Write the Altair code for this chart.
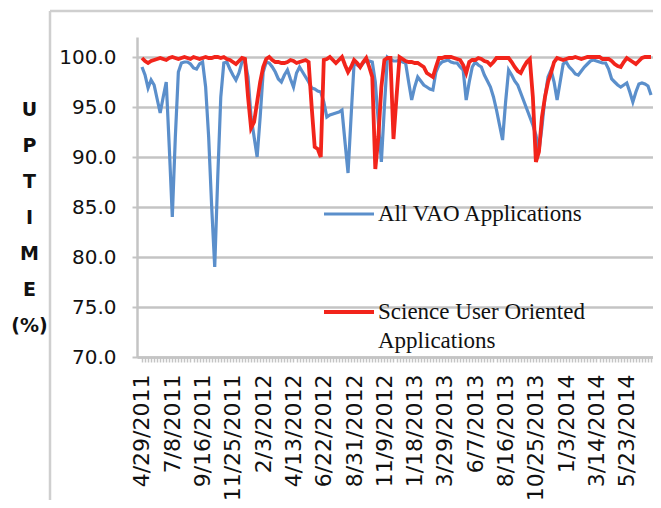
import altair as alt
import pandas as pd

tick_labels = ["4/29/2011", "7/8/2011", "9/16/2011", "11/25/2011", "2/3/2012",
               "4/13/2012", "6/22/2012", "8/31/2012", "11/9/2012", "1/18/2013",
               "3/29/2013", "6/7/2013", "8/16/2013", "10/25/2013", "1/3/2014",
               "3/14/2014", "5/23/2014"]

series_names = ["All VAO Applications", "Science User Oriented Applications"]

all_vao = [
    99.0, 98.2, 96.9, 97.7, 97.2, 95.8, 94.4, 96.0, 97.5, 91.0,
    84.0, 92.0, 98.5, 99.4, 99.5, 99.5, 99.3, 98.9, 98.8, 99.3,
    99.5, 97.0, 92.0, 85.0, 79.0, 88.0, 96.0, 99.4, 99.5, 98.8,
    98.2, 97.7, 98.4, 99.5, 99.6, 98.0, 94.0, 92.0, 90.0, 94.0,
    98.5, 99.5, 99.4, 99.0, 98.5, 97.8, 97.5, 98.2, 98.7, 97.8,
    97.0, 98.4, 99.0, 98.5, 98.0, 97.5, 96.9, 96.8, 96.6, 96.5,
    95.5, 94.0, 94.2, 94.3, 94.4, 94.5, 94.7, 91.5, 88.4, 94.0,
    99.4, 99.2, 99.0, 99.4, 99.7, 99.6, 99.5, 97.5, 93.5, 89.5,
    95.0, 100.0, 99.8, 99.6, 99.6, 99.7, 99.5, 99.4, 97.5, 95.7,
    97.0, 98.0, 97.6, 97.2, 97.0, 96.8, 96.7, 98.5, 99.2, 99.5,
    99.6, 99.7, 99.5, 99.4, 99.4, 99.0, 98.7, 95.7, 97.5, 99.0,
    99.5, 99.2, 99.0, 98.2, 97.6, 97.0, 96.0, 94.7, 93.2, 91.7,
    95.5, 98.7, 98.2, 97.6, 97.2, 96.4, 95.6, 94.8, 94.0, 93.2,
    92.2, 90.6, 93.0, 96.0, 98.0, 98.7, 97.5, 95.7, 97.5, 99.3,
    99.5, 99.0, 98.7, 98.3, 98.2, 98.6, 99.0, 99.3, 99.6, 99.7,
    99.6, 99.5, 99.4, 99.4, 98.8, 97.8, 97.5, 97.2, 97.0, 97.2,
    97.4, 96.5, 95.5, 96.5, 97.3, 97.4, 97.3, 97.1, 96.2,
]

science_user = [
    99.9, 99.6, 99.4, 99.6, 99.7, 99.8, 99.9, 99.8, 99.7, 99.9,
    100.0, 99.9, 99.8, 99.9, 100.0, 99.9, 99.8, 100.0, 99.9, 99.8,
    99.9, 100.0, 99.9, 99.9, 100.0, 100.0, 99.9, 100.0, 99.8, 99.7,
    99.5, 99.3, 99.6, 99.9, 99.8, 96.0, 92.9, 93.5, 95.5, 97.5,
    99.0, 99.8, 100.0, 99.7, 99.5, 99.5, 99.4, 99.4, 99.5, 99.7,
    99.6, 99.4, 99.5, 99.6, 99.7, 99.5, 95.0, 91.0, 90.8, 90.0,
    99.7, 99.8, 100.0, 99.7, 99.4, 99.7, 100.0, 99.2, 98.5, 99.0,
    99.7, 99.4, 99.0, 99.5, 99.9, 99.0, 98.0, 88.8, 92.0, 97.0,
    99.7, 99.9, 99.9, 91.8, 96.0, 100.0, 99.8, 99.6, 99.5, 99.5,
    99.4, 99.4, 99.2, 99.0, 98.4, 98.2, 98.0, 99.0, 99.9, 99.9,
    100.0, 100.0, 100.0, 99.9, 99.8, 99.7, 99.2, 98.4, 99.5, 99.7,
    99.7, 99.9, 99.8, 99.6, 99.5, 99.2, 99.5, 99.9, 99.9, 99.9,
    99.9, 99.9, 99.5, 99.0, 98.6, 98.4, 99.0, 99.5, 99.8, 96.0,
    89.5, 90.5, 94.0, 96.0, 97.5, 98.4, 99.5, 99.9, 99.8, 99.7,
    99.8, 99.9, 99.9, 100.0, 99.9, 99.8, 99.9, 100.0, 100.0, 100.0,
    100.0, 100.0, 99.8, 99.8, 99.8, 99.6, 99.3, 99.1, 99.0, 99.5,
    99.9, 99.7, 99.5, 99.3, 99.6, 99.9, 100.0, 100.0, 100.0,
]

n = min(len(all_vao), len(science_user))
rows = []
for i in range(n):
    rows.append({"week": i, "series": series_names[0], "uptime": all_vao[i]})
for i in range(n):
    rows.append({"week": i, "series": series_names[1], "uptime": science_user[i]})
df = pd.DataFrame(rows)

label_array = "[" + ",".join("'" + t + "'" for t in tick_labels) + "]"
x_label_expr = f"datum.value % 10 == 0 ? {label_array}[datum.value / 10] : ''"

BLUE = "#5B8FCB"
RED = "#F2241B"
GRID = "#C4C4C4"

lines = alt.Chart(df).mark_line().encode(
    x=alt.X("week:Q",
            scale=alt.Scale(domain=[-1.65, n - 1 + 0.65], nice=False, zero=False),
            axis=alt.Axis(values=list(range(n)), labelExpr=x_label_expr,
                          labelAngle=270, labelFont="DejaVu Sans", labelFontSize=22,
                          labelColor="#111111", labelPadding=12, labelOverlap=False,
                          labelFlush=False, labelBound=False,
                          tickSize=5, tickColor=GRID, tickWidth=1.5,
                          domainColor=GRID, domainWidth=2.5, grid=False, title=None)),
    y=alt.Y("uptime:Q",
            scale=alt.Scale(domain=[70, 102], nice=False, zero=False),
            axis=alt.Axis(values=[70, 75, 80, 85, 90, 95, 100], format=".1f",
                          labelFont="DejaVu Sans", labelFontSize=20, labelColor="#111111",
                          labelPadding=16, tickSize=5, tickColor=GRID, tickWidth=2,
                          domainColor=GRID, domainWidth=2.5,
                          grid=True, gridColor=GRID, gridWidth=2.5,
                          title=["U", "P", "T", "I", "M", "E", "(%)"],
                          titleAngle=0, titleAlign="center", titleBaseline="top",
                          titleX=-108, titleY=63, titleLineHeight=36,
                          titleFont="DejaVu Sans", titleFontSize=19, titleFontWeight="bold",
                          titleColor="#111111")),
    color=alt.Color("series:N",
                    scale=alt.Scale(domain=series_names, range=[BLUE, RED]),
                    legend=alt.Legend(orient="none", legendX=185, legendY=150,
                                      direction="vertical", title=None,
                                      symbolType="stroke", symbolSize=2500,
                                      symbolStrokeWidth=3.5, labelFont="Liberation Serif",
                                      labelFontSize=23, labelColor="#111111",
                                      labelLimit=500, labelOffset=2, rowPadding=59,
                                      padding=0, labelBaseline="middle",
                                      labelExpr="datum.label == 'Science User Oriented Applications' ? ['Science User Oriented', 'Applications'] : datum.label")),
    strokeWidth=alt.StrokeWidth("series:N",
                                scale=alt.Scale(domain=series_names, range=[3.2, 3.8]),
                                legend=None),
    order=alt.Order("week:Q"),
)

frame_df = pd.DataFrame({"k": [0]})
frame_top = alt.Chart(frame_df).mark_rule(color="#CFCFCF", strokeWidth=2.5).encode(
    x=alt.value(-87), x2=alt.value(560), y=alt.value(-26))
frame_left = alt.Chart(frame_df).mark_rule(color="#CFCFCF", strokeWidth=2.5).encode(
    x=alt.value(-87), y=alt.value(-26), y2=alt.value(520))

chart = alt.layer(frame_top, frame_left, lines).properties(
    width=516, height=320,
    autosize=alt.AutoSizeParams(type="none"),
    padding={"left": 129, "top": 29, "right": 0, "bottom": 143},
    background="white",
).configure_view(stroke=None)
chart.config.style = {"guide-label": {"lineHeight": 29}}

chart.save("out.html", embed_options={"renderer": "svg", "actions": False})
